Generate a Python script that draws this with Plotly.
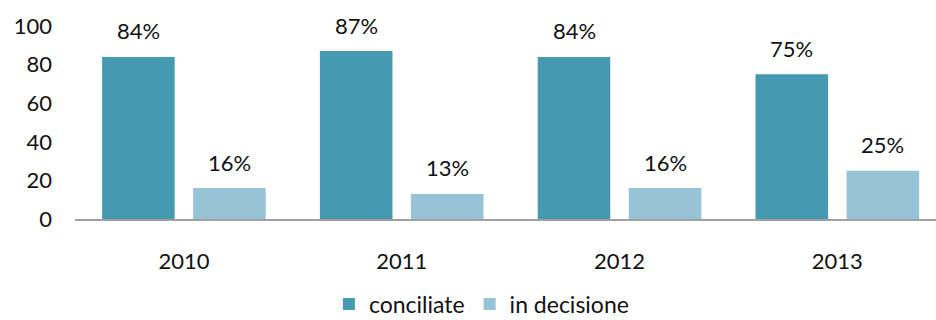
import plotly.graph_objects as go

years = ["2010", "2011", "2012", "2013"]
conciliate = [84, 87, 84, 75]
in_decisione = [16, 13, 16, 25]
y_ticks = [0, 20, 40, 60, 80, 100]

FONT = "Lato"
c1 = "#4599B0"
c2 = "#96C3D5"

fig = go.Figure()
fig.add_trace(go.Bar(x=years, y=conciliate, name="conciliate", marker=dict(color=c1, line=dict(width=0))))
fig.add_trace(go.Bar(x=years, y=in_decisione, name="in decisione", marker=dict(color=c2, line=dict(width=0))))

off = 0.209
for i, y in enumerate(years):
    fig.add_annotation(x=i - off, y=conciliate[i], text=f"{conciliate[i]}%", showarrow=False,
                       yanchor="middle", yshift=26, font=dict(family=FONT, size=22, color="#111"))
    fig.add_annotation(x=i + off, y=in_decisione[i], text=f"{in_decisione[i]}%", showarrow=False,
                       yanchor="middle", yshift=26, font=dict(family=FONT, size=22, color="#111"))

fig.update_layout(
    width=936, height=320,
    margin=dict(l=75, r=0, t=26, b=101, autoexpand=False),
    paper_bgcolor="white", plot_bgcolor="white",
    barmode="group", bargap=0.164, bargroupgap=0.203,
    font=dict(family=FONT, size=22, color="#111"),
    showlegend=True,
    legend=dict(orientation="h", x=0.472, xanchor="center", yref="container", y=0.05, yanchor="middle",
                font=dict(family=FONT, size=23), itemwidth=30, traceorder="normal",
                tracegroupgap=0),
    xaxis=dict(type="category", range=[-0.5, 3.453], showgrid=False, showline=True,
               linecolor="#A0A0A0", linewidth=1.5, ticks="", ticklabelstandoff=22),
    yaxis=dict(range=[0, 100], tickvals=y_ticks, showgrid=False, showline=False, zeroline=False,
               ticks="", ticklabelstandoff=22),
)

fig.write_html("out.html")
